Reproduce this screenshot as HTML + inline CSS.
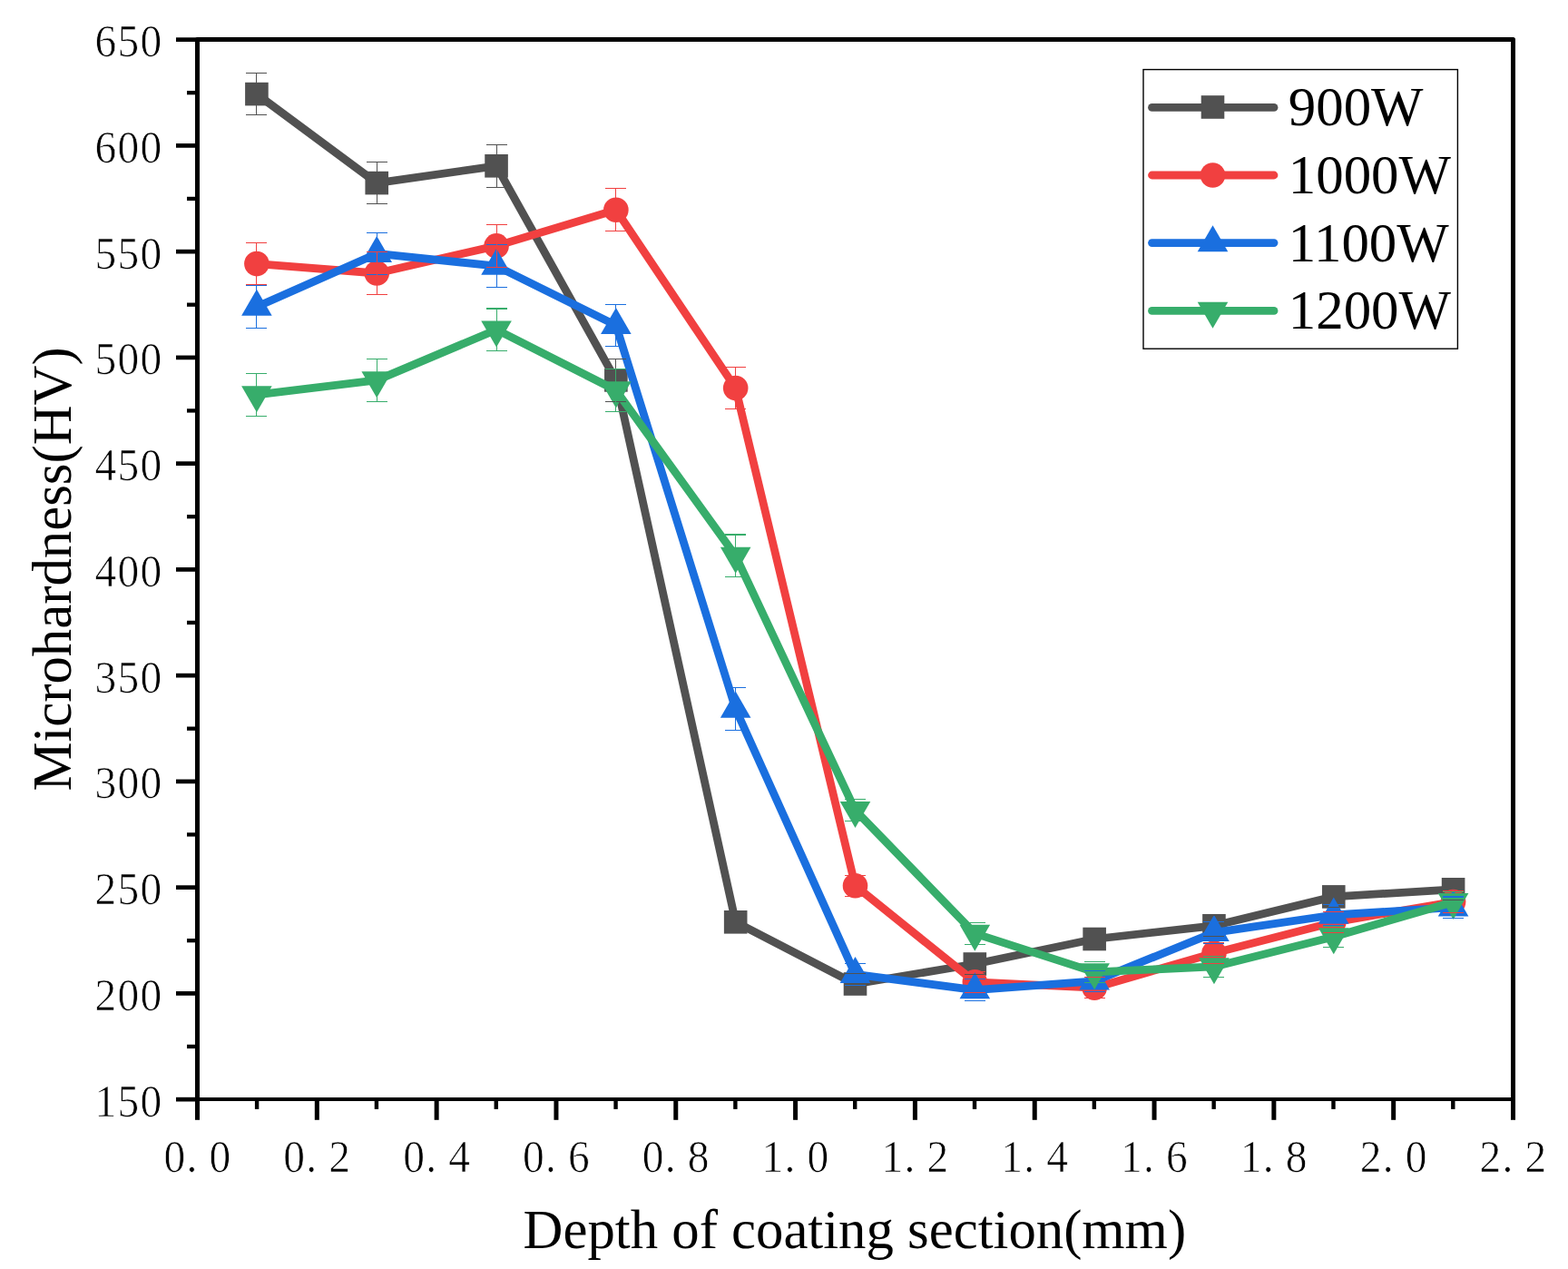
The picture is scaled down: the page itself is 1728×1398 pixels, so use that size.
<!DOCTYPE html>
<html lang="en"><head><meta charset="utf-8"><title>Microhardness vs depth of coating section</title>
<style>
html,body{margin:0;padding:0;background:#fff;}
body{width:1728px;height:1398px;overflow:hidden;}
svg{display:block;}
.tk{font-family:"Liberation Serif","Noto Serif CJK SC",serif;font-size:50px;fill:#000;stroke:#fff;stroke-width:0.7px;}
.tt{font-family:"Liberation Serif",serif;font-size:62px;fill:#000;}
.lg{font-family:"Liberation Serif",serif;font-size:62px;fill:#000;}
</style></head><body>
<svg width="1728" height="1398" viewBox="0 0 1728 1398">
<rect width="1728" height="1398" fill="#fff"/>
<g id="s-gray">
<path d="M282.91 103.6 L415.23 201.6 L547.05 182.8 L678.86 418.9 L810.68 1015.8 L942.5 1084 L1074.32 1062 L1206.14 1034.5 L1337.95 1019.8 L1469.77 987.9 L1601.59 979.8" fill="none" stroke="#515151" stroke-width="8.8" stroke-linejoin="round" stroke-linecap="round"/>
<rect x="270.11" y="90.8" width="25.6" height="25.6" fill="#515151"/>
<rect x="402.43" y="188.8" width="25.6" height="25.6" fill="#515151"/>
<rect x="534.25" y="170" width="25.6" height="25.6" fill="#515151"/>
<rect x="666.06" y="406.1" width="25.6" height="25.6" fill="#515151"/>
<rect x="797.88" y="1003" width="25.6" height="25.6" fill="#515151"/>
<rect x="929.7" y="1071.2" width="25.6" height="25.6" fill="#515151"/>
<rect x="1061.52" y="1049.2" width="25.6" height="25.6" fill="#515151"/>
<rect x="1193.34" y="1021.7" width="25.6" height="25.6" fill="#515151"/>
<rect x="1325.15" y="1007" width="25.6" height="25.6" fill="#515151"/>
<rect x="1456.97" y="975.1" width="25.6" height="25.6" fill="#515151"/>
<rect x="1588.79" y="967" width="25.6" height="25.6" fill="#515151"/>
</g>
<g id="s-red">
<path d="M282.91 290.6 L415.23 301 L547.05 270.9 L678.86 231.2 L810.68 427.6 L942.5 975.8 L1074.32 1081.8 L1206.14 1088.2 L1337.95 1050 L1469.77 1016 L1601.59 993.5" fill="none" stroke="#F14040" stroke-width="8.8" stroke-linejoin="round" stroke-linecap="round"/>
<circle cx="282.91" cy="290.6" r="13.8" fill="#F14040"/>
<circle cx="415.23" cy="301" r="13.8" fill="#F14040"/>
<circle cx="547.05" cy="270.9" r="13.8" fill="#F14040"/>
<circle cx="678.86" cy="231.2" r="13.8" fill="#F14040"/>
<circle cx="810.68" cy="427.6" r="13.8" fill="#F14040"/>
<circle cx="942.5" cy="975.8" r="13.8" fill="#F14040"/>
<circle cx="1074.32" cy="1081.8" r="13.8" fill="#F14040"/>
<circle cx="1206.14" cy="1088.2" r="13.8" fill="#F14040"/>
<circle cx="1337.95" cy="1050" r="13.8" fill="#F14040"/>
<circle cx="1469.77" cy="1016" r="13.8" fill="#F14040"/>
<circle cx="1601.59" cy="993.5" r="13.8" fill="#F14040"/>
</g>
<g id="s-blue">
<path d="M282.91 338.1 L415.23 279.4 L547.05 293.1 L678.86 358.4 L810.68 781 L942.5 1073.4 L1074.32 1090.6 L1206.14 1080.8 L1337.95 1027.3 L1469.77 1008 L1601.59 999.7" fill="none" stroke="#1A6FDF" stroke-width="8.8" stroke-linejoin="round" stroke-linecap="round"/>
<polygon points="266.11,347.8 299.71,347.8 282.91,318.7" fill="#1A6FDF"/>
<polygon points="398.43,289.1 432.03,289.1 415.23,260" fill="#1A6FDF"/>
<polygon points="530.25,302.8 563.85,302.8 547.05,273.7" fill="#1A6FDF"/>
<polygon points="662.06,368.1 695.66,368.1 678.86,339" fill="#1A6FDF"/>
<polygon points="793.88,790.7 827.48,790.7 810.68,761.6" fill="#1A6FDF"/>
<polygon points="925.7,1083.1 959.3,1083.1 942.5,1054" fill="#1A6FDF"/>
<polygon points="1057.52,1100.3 1091.12,1100.3 1074.32,1071.2" fill="#1A6FDF"/>
<polygon points="1189.34,1090.5 1222.94,1090.5 1206.14,1061.4" fill="#1A6FDF"/>
<polygon points="1321.15,1037 1354.75,1037 1337.95,1007.9" fill="#1A6FDF"/>
<polygon points="1452.97,1017.7 1486.57,1017.7 1469.77,988.6" fill="#1A6FDF"/>
<polygon points="1584.79,1009.4 1618.39,1009.4 1601.59,980.3" fill="#1A6FDF"/>
</g>
<g id="s-green">
<path d="M282.91 434.9 L415.23 418.9 L547.05 363.2 L678.86 430 L810.68 612.4 L942.5 892.6 L1074.32 1028.4 L1206.14 1070.9 L1337.95 1064.9 L1469.77 1031.9 L1601.59 993.7" fill="none" stroke="#37AD6B" stroke-width="8.8" stroke-linejoin="round" stroke-linecap="round"/>
<polygon points="266.11,425.2 299.71,425.2 282.91,454.3" fill="#37AD6B"/>
<polygon points="398.43,409.2 432.03,409.2 415.23,438.3" fill="#37AD6B"/>
<polygon points="530.25,353.5 563.85,353.5 547.05,382.6" fill="#37AD6B"/>
<polygon points="662.06,420.3 695.66,420.3 678.86,449.4" fill="#37AD6B"/>
<polygon points="793.88,602.7 827.48,602.7 810.68,631.8" fill="#37AD6B"/>
<polygon points="925.7,882.9 959.3,882.9 942.5,912" fill="#37AD6B"/>
<polygon points="1057.52,1018.7 1091.12,1018.7 1074.32,1047.8" fill="#37AD6B"/>
<polygon points="1189.34,1061.2 1222.94,1061.2 1206.14,1090.3" fill="#37AD6B"/>
<polygon points="1321.15,1055.2 1354.75,1055.2 1337.95,1084.3" fill="#37AD6B"/>
<polygon points="1452.97,1022.2 1486.57,1022.2 1469.77,1051.3" fill="#37AD6B"/>
<polygon points="1584.79,984 1618.39,984 1601.59,1013.1" fill="#37AD6B"/>
</g>
<path d="M282.91 80.4V126.8M271.41 80.4H294.41M271.41 126.8H294.41M415.23 178.3V224.9M403.73 178.3H426.73M403.73 224.9H426.73M547.05 159.4V206.2M535.55 159.4H558.55M535.55 206.2H558.55M678.86 395.2V442.6M667.36 395.2H690.36M667.36 442.6H690.36M799.18 1004.1H822.18M799.18 1027.5H822.18M931 1072.3H954M931 1095.7H954M1062.82 1050.3H1085.82M1062.82 1073.7H1085.82M1194.64 1022.8H1217.64M1194.64 1046.2H1217.64M1326.45 1008.1H1349.45M1326.45 1031.5H1349.45M1458.27 976.2H1481.27M1458.27 999.6H1481.27M1590.09 968.1H1613.09M1590.09 991.5H1613.09" fill="none" stroke="#515151" stroke-width="1.1" shape-rendering="crispEdges"/>
<path d="M282.91 411.5V458.3M271.41 411.5H294.41M271.41 458.3H294.41M415.23 395.5V442.3M403.73 395.5H426.73M403.73 442.3H426.73M547.05 340V386.4M535.55 340H558.55M535.55 386.4H558.55M678.86 406.5V453.5M667.36 406.5H690.36M667.36 453.5H690.36M810.68 589V635.8M799.18 589H822.18M799.18 635.8H822.18M931 880.9H954M931 904.3H954M1062.82 1016.7H1085.82M1062.82 1040.1H1085.82M1194.64 1059.2H1217.64M1194.64 1082.6H1217.64M1326.45 1053.2H1349.45M1326.45 1076.6H1349.45M1458.27 1020.2H1481.27M1458.27 1043.6H1481.27M1590.09 982H1613.09M1590.09 1005.4H1613.09" fill="none" stroke="#37AD6B" stroke-width="1.1" shape-rendering="crispEdges"/>
<path d="M282.91 314.8V361.4M271.41 314.8H294.41M271.41 361.4H294.41M415.23 256.1V302.7M403.73 256.1H426.73M403.73 302.7H426.73M547.05 269.7V316.5M535.55 269.7H558.55M535.55 316.5H558.55M678.86 335.4V381.4M667.36 335.4H690.36M667.36 381.4H690.36M810.68 757.5V804.5M799.18 757.5H822.18M799.18 804.5H822.18M931 1061.7H954M931 1085.1H954M1062.82 1078.9H1085.82M1062.82 1102.3H1085.82M1194.64 1069.1H1217.64M1194.64 1092.5H1217.64M1326.45 1015.6H1349.45M1326.45 1039H1349.45M1458.27 996.3H1481.27M1458.27 1019.7H1481.27M1590.09 988H1613.09M1590.09 1011.4H1613.09" fill="none" stroke="#1A6FDF" stroke-width="1.1" shape-rendering="crispEdges"/>
<path d="M282.91 267.3V313.9M271.41 267.3H294.41M271.41 313.9H294.41M415.23 277.5V324.5M403.73 277.5H426.73M403.73 324.5H426.73M547.05 247.6V294.2M535.55 247.6H558.55M535.55 294.2H558.55M678.86 207.7V254.7M667.36 207.7H690.36M667.36 254.7H690.36M810.68 404.3V450.9M799.18 404.3H822.18M799.18 450.9H822.18M931 964.1H954M931 987.5H954M1062.82 1070.1H1085.82M1062.82 1093.5H1085.82M1194.64 1076.5H1217.64M1194.64 1099.9H1217.64M1326.45 1038.3H1349.45M1326.45 1061.7H1349.45M1458.27 1004.3H1481.27M1458.27 1027.7H1481.27M1590.09 981.8H1613.09M1590.09 1005.2H1613.09" fill="none" stroke="#F14040" stroke-width="1.1" shape-rendering="crispEdges"/>
<path d="M217.5 1213V43.5H1667.5V1213" fill="none" stroke="#000" stroke-width="5" stroke-linejoin="round" stroke-linecap="butt"/>
<rect x="215" y="1209" width="1455" height="4" fill="#000" shape-rendering="crispEdges"/>
<g fill="#000">
<rect x="215" y="1211" width="5" height="22.8"/>
<rect x="280.91" y="1211" width="4.4" height="10.9"/>
<rect x="346.82" y="1211" width="5" height="22.8"/>
<rect x="412.73" y="1211" width="4.4" height="10.9"/>
<rect x="478.64" y="1211" width="5" height="22.8"/>
<rect x="544.55" y="1211" width="4.4" height="10.9"/>
<rect x="610.45" y="1211" width="5" height="22.8"/>
<rect x="676.36" y="1211" width="4.4" height="10.9"/>
<rect x="742.27" y="1211" width="5" height="22.8"/>
<rect x="808.18" y="1211" width="4.4" height="10.9"/>
<rect x="874.09" y="1211" width="5" height="22.8"/>
<rect x="940" y="1211" width="4.4" height="10.9"/>
<rect x="1005.91" y="1211" width="5" height="22.8"/>
<rect x="1071.82" y="1211" width="4.4" height="10.9"/>
<rect x="1137.73" y="1211" width="5" height="22.8"/>
<rect x="1203.64" y="1211" width="4.4" height="10.9"/>
<rect x="1269.55" y="1211" width="5" height="22.8"/>
<rect x="1335.45" y="1211" width="4.4" height="10.9"/>
<rect x="1401.36" y="1211" width="5" height="22.8"/>
<rect x="1467.27" y="1211" width="4.4" height="10.9"/>
<rect x="1533.18" y="1211" width="5" height="22.8"/>
<rect x="1599.09" y="1211" width="4.4" height="10.9"/>
<rect x="1665" y="1211" width="5" height="22.8"/>
<rect x="194" y="1208.8" width="23" height="4.7"/>
<rect x="206" y="1150.77" width="11" height="4.3"/>
<rect x="194" y="1092.05" width="23" height="4.7"/>
<rect x="206" y="1034.02" width="11" height="4.3"/>
<rect x="194" y="975.3" width="23" height="4.7"/>
<rect x="206" y="917.27" width="11" height="4.3"/>
<rect x="194" y="858.55" width="23" height="4.7"/>
<rect x="206" y="800.52" width="11" height="4.3"/>
<rect x="194" y="741.8" width="23" height="4.7"/>
<rect x="206" y="683.77" width="11" height="4.3"/>
<rect x="194" y="625.05" width="23" height="4.7"/>
<rect x="206" y="567.02" width="11" height="4.3"/>
<rect x="194" y="508.3" width="23" height="4.7"/>
<rect x="206" y="450.28" width="11" height="4.3"/>
<rect x="194" y="391.55" width="23" height="4.7"/>
<rect x="206" y="333.53" width="11" height="4.3"/>
<rect x="194" y="274.8" width="23" height="4.7"/>
<rect x="206" y="216.78" width="11" height="4.3"/>
<rect x="194" y="158.05" width="23" height="4.7"/>
<rect x="206" y="100.02" width="11" height="4.3"/>
<rect x="194" y="41.3" width="23" height="4.7"/>
</g>
<text class="tk" transform="translate(180.5 1290.7) scale(0.95 1)" x="0 26.32 52.63">0.0</text>
<text class="tk" transform="translate(312.32 1290.7) scale(0.95 1)" x="0 26.32 52.63">0.2</text>
<text class="tk" transform="translate(444.14 1290.7) scale(0.95 1)" x="0 26.32 52.63">0.4</text>
<text class="tk" transform="translate(575.95 1290.7) scale(0.95 1)" x="0 26.32 52.63">0.6</text>
<text class="tk" transform="translate(707.77 1290.7) scale(0.95 1)" x="0 26.32 52.63">0.8</text>
<text class="tk" transform="translate(839.59 1290.7) scale(0.95 1)" x="0 26.32 52.63">1.0</text>
<text class="tk" transform="translate(971.41 1290.7) scale(0.95 1)" x="0 26.32 52.63">1.2</text>
<text class="tk" transform="translate(1103.23 1290.7) scale(0.95 1)" x="0 26.32 52.63">1.4</text>
<text class="tk" transform="translate(1235.05 1290.7) scale(0.95 1)" x="0 26.32 52.63">1.6</text>
<text class="tk" transform="translate(1366.86 1290.7) scale(0.95 1)" x="0 26.32 52.63">1.8</text>
<text class="tk" transform="translate(1498.68 1290.7) scale(0.95 1)" x="0 26.32 52.63">2.0</text>
<text class="tk" transform="translate(1630.5 1290.7) scale(0.95 1)" x="0 26.32 52.63">2.2</text>
<text class="tk" transform="translate(104.6 1229.6) scale(0.95 1)" x="0 26.32 52.63">150</text>
<text class="tk" transform="translate(104.6 1112.85) scale(0.95 1)" x="0 26.32 52.63">200</text>
<text class="tk" transform="translate(104.6 996.1) scale(0.95 1)" x="0 26.32 52.63">250</text>
<text class="tk" transform="translate(104.6 879.35) scale(0.95 1)" x="0 26.32 52.63">300</text>
<text class="tk" transform="translate(104.6 762.6) scale(0.95 1)" x="0 26.32 52.63">350</text>
<text class="tk" transform="translate(104.6 645.85) scale(0.95 1)" x="0 26.32 52.63">400</text>
<text class="tk" transform="translate(104.6 529.1) scale(0.95 1)" x="0 26.32 52.63">450</text>
<text class="tk" transform="translate(104.6 412.35) scale(0.95 1)" x="0 26.32 52.63">500</text>
<text class="tk" transform="translate(104.6 295.6) scale(0.95 1)" x="0 26.32 52.63">550</text>
<text class="tk" transform="translate(104.6 178.85) scale(0.95 1)" x="0 26.32 52.63">600</text>
<text class="tk" transform="translate(104.6 62.1) scale(0.95 1)" x="0 26.32 52.63">650</text>
<text class="tt" transform="translate(576.6 1375) scale(0.98 1)">Depth of coating section(mm)</text>
<text class="tt" transform="translate(78.4 871.6) rotate(-90) scale(0.98 1)">Microhardness(HV)</text>
<rect x="1260" y="76.6" width="346.4" height="307.6" fill="#fff" stroke="#000" stroke-width="1.4"/>
<path d="M1269.5 118.4H1404" stroke="#515151" stroke-width="8.8" stroke-linecap="round" fill="none"/>
<rect x="1323.7" y="105.2" width="25.6" height="25.6" fill="#515151"/>
<text class="lg" transform="translate(1419.8 138.3) scale(0.982 1)">900W</text>
<path d="M1269.5 193H1404" stroke="#F14040" stroke-width="8.8" stroke-linecap="round" fill="none"/>
<circle cx="1336.5" cy="193" r="13.8" fill="#F14040"/>
<text class="lg" transform="translate(1419.8 213.2) scale(0.982 1)">1000W</text>
<path d="M1269.5 267.6H1404" stroke="#1A6FDF" stroke-width="8.8" stroke-linecap="round" fill="none"/>
<polygon points="1319.7,277.3 1353.3,277.3 1336.5,248.2" fill="#1A6FDF"/>
<text class="lg" transform="translate(1419.8 287.8) scale(0.982 1)">1100W</text>
<path d="M1269.5 342.4H1404" stroke="#37AD6B" stroke-width="8.8" stroke-linecap="round" fill="none"/>
<polygon points="1319.7,332.7 1353.3,332.7 1336.5,361.8" fill="#37AD6B"/>
<text class="lg" transform="translate(1419.8 362.3) scale(0.982 1)">1200W</text>
</svg>
</body></html>
